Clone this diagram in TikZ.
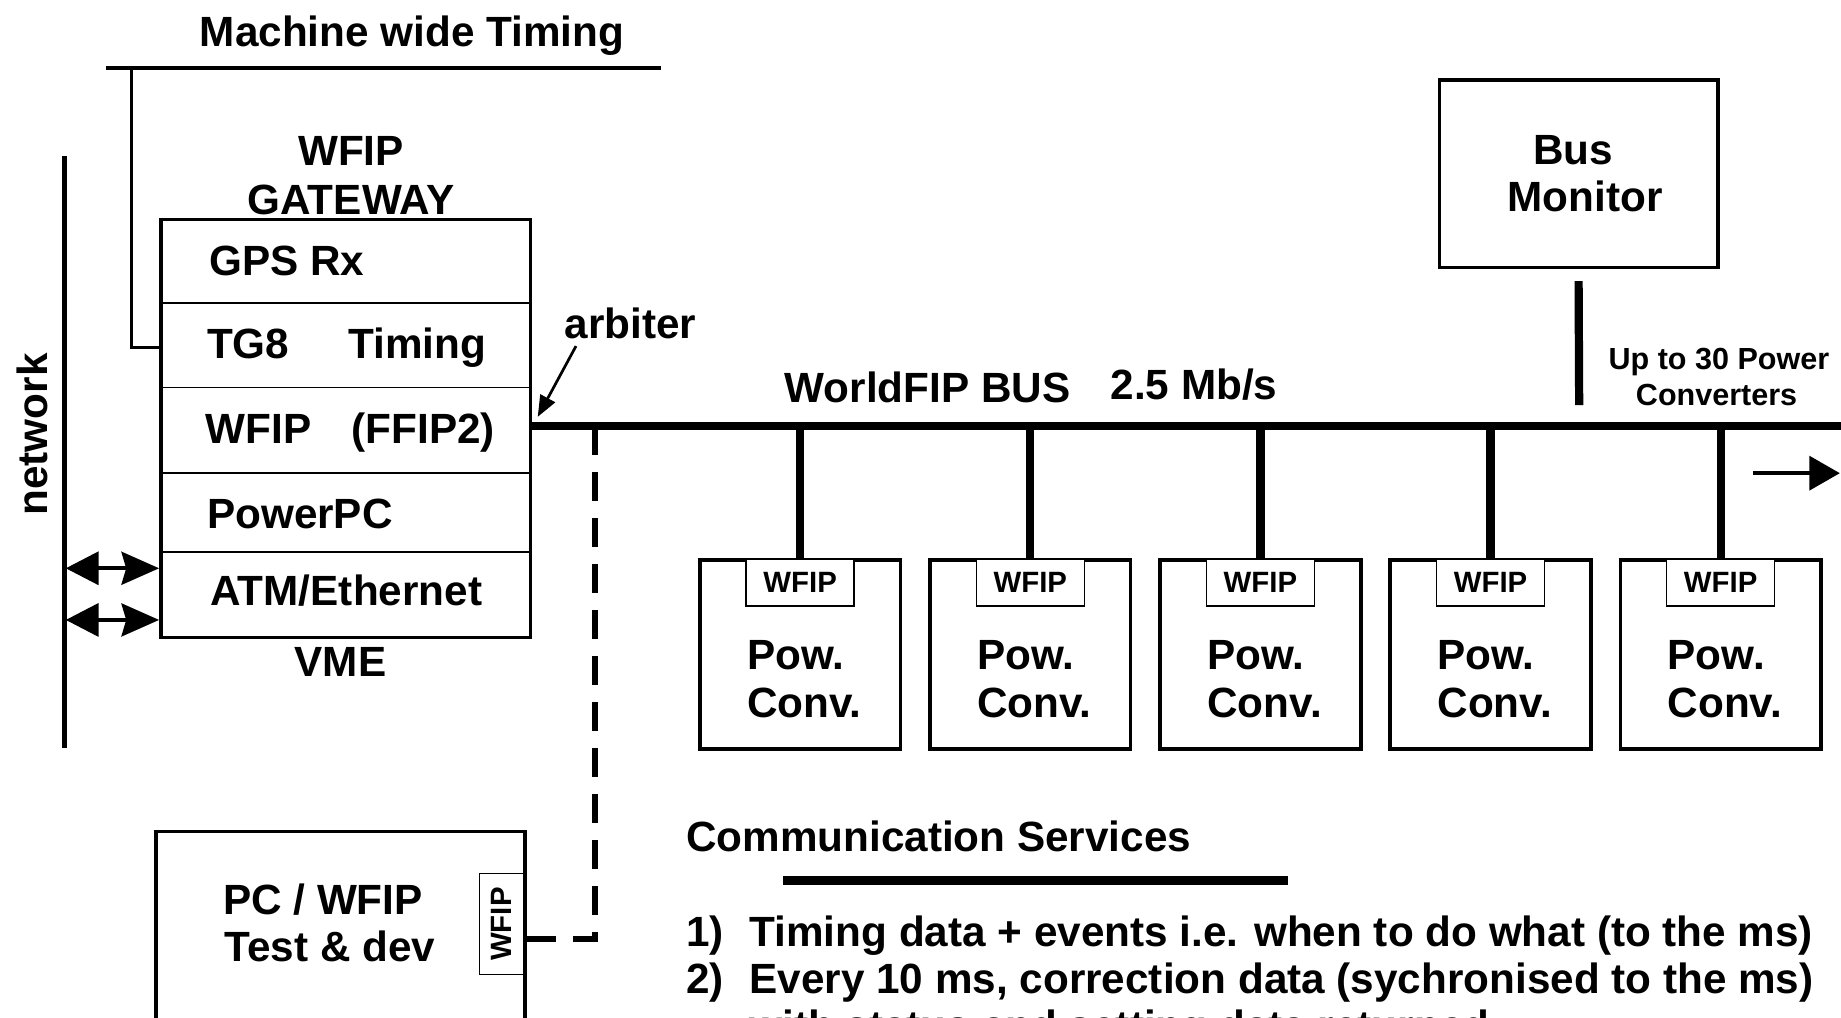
\documentclass[tikz,border=0pt]{standalone}
\usepackage{fontspec}
\setmainfont{Liberation Sans}
\usetikzlibrary{arrows.meta}

\tikzset{
  lbl/.style={font=\bfseries\fontsize{18}{20}\selectfont, inner sep=0pt, anchor=base},
  lblw/.style={lbl, anchor=base west},
  tag/.style={font=\bfseries\fontsize{12.5}{14}\selectfont, inner sep=0pt},
  box/.style={draw, line width=1.5pt, inner sep=0pt},
  chip/.style={draw, line width=0.6pt, inner sep=0pt, fill=white},
  bus/.style={line width=3.5pt},
  dbl/.style={{Triangle[length=14pt,width=14pt]}-{Stealth[length=16pt,width=14pt,inset=2pt]}, line width=1.7pt},
}

\begin{document}
\begin{tikzpicture}[x=0.5pt, y=-0.5pt]
  \useasboundingbox (0,0) rectangle (1568,867);

  % machine wide timing
  \node[lbl] (mwt) at (351,40) {Machine wide Timing};
  \coordinate (tmL) at (90,58);
  \coordinate (tmR) at (563,58);
  \coordinate (tmTap) at (112,58);
  \draw[line width=1.5pt] (tmL) -- (tmR);

  % gateway crate
  \node[lbl] (gwT1) at (299,141) {WFIP};
  \node[lbl] (gwT2) at (299,183) {GATEWAY};
  \node[box, minimum width=157.5pt, minimum height=178pt] (gw) at (294.5,365) {};
  \foreach \y in {258,330,403,470}
    \draw[line width=0.7pt] (137,\y) -- (452,\y);
  \node[lblw] (gps) at (178,235) {GPS Rx};
  \node[lblw] (tg8) at (176,305) {TG8\hspace{1.4em}Timing};
  \node[lblw] (ffip) at (175,378) {WFIP\hspace{0.95em}(FFIP2)};
  \node[lblw] (ppc) at (176,450) {PowerPC};
  \node[lbl] (atm) at (295,516) {ATM/Ethernet};
  \node[lbl] (vme) at (290,576) {VME};
  \draw[line width=1.5pt] (tmTap) |- (gw.west |- tg8.west);

  % network
  \draw[line width=2pt] (55,133) -- (55,637);
  \node[lbl, rotate=90, anchor=center] (net) at (28,370) {network};
  \coordinate (na1) at (56,484);
  \coordinate (na2) at (56,528);
  \draw[dbl] (na1) -- (na1 -| gw.west);
  \draw[dbl] (na2) -- (na2 -| gw.west);

  % the bus
  \coordinate (busL) at (452,363);
  \coordinate (busR) at (1568,363);
  \draw[bus] (busL) -- (busR);
  \node[lbl] (wfb) at (790,343) {WorldFIP BUS};
  \node[lbl] (rate) at (1017,340) {2.5 Mb/s};
  \node[lbl] (arb) at (537,288) {arbiter};
  \coordinate (arbtip) at (458,355);
  \draw[-{Triangle[length=9pt,width=7pt]}, line width=1.15pt] ([shift={(10,6)}]arb.south west) -- (arbtip);
  \coordinate (more) at (1493,403);
  \draw[-{Triangle[length=13pt,width=14.5pt]}, line width=1.5pt] (more) -- (1567,403);

  % bus monitor
  \node[box, minimum width=118.5pt, minimum height=80pt] (bm) at (1344.5,148) {};
  \node[lbl] (bmT1) at (1340,140) {Bus};
  \node[lbl] (bmT2) at (1350,180) {Monitor};
  \coordinate (bmtap) at (1345,345);
  \draw[bus] ([yshift=-5pt]bm.south) -- (bmtap);
  \node[font=\bfseries\fontsize{13}{15}\selectfont, inner sep=0pt, anchor=base] (upto1) at (1464,315) {Up to 30 Power};
  \node[font=\bfseries\fontsize{13}{15}\selectfont, inner sep=0pt, anchor=base] (upto2) at (1462,345) {Converters};

  % power converters
  \foreach \i in {1,...,5}{
    \pgfmathsetmacro{\x}{681.5+(\i-1)*196}
    \node[box, minimum width=85.5pt, minimum height=80.5pt] (pc\i) at (\x,557.5) {};
    \node[chip, tag, minimum width=46pt, minimum height=20pt, anchor=north] (pcw\i) at (pc\i.north) {WFIP};
    \node[lblw] (pw\i) at (\x-45.5,570) {Pow.};
    \node[lblw] (cv\i) at (\x-45.5,611) {Conv.};
    \draw[bus] (pc\i.north) -- (pc\i.north |- busL);
  }

  % test pc
  \node[box, minimum width=157pt, minimum height=96pt] (tpc) at (290,804) {};
  \node[lbl] (tpcT1) at (275,779) {PC / WFIP};
  \node[lbl] (tpcT2) at (281,819) {Test \& dev};
  \node[chip, minimum width=19pt, minimum height=43pt, anchor=east] (tpcw) at (447,787) {};
  \node[tag, rotate=90] at (tpcw) {WFIP};
  \coordinate (dtop) at (507,363);
  \coordinate (tport) at (447,800);
  \draw[line width=2.5pt, dash pattern=on 12.25pt off 7.35pt] (dtop) |- (tport);

  % services
  \node[lblw] (cs) at (584,725) {Communication Services};
  \coordinate (csL) at (667,750);
  \coordinate (csR) at (1097,750);
  \draw[line width=4pt] (csL) -- (csR);
  \node[lblw] (svc) at (584,806) {\begin{tabular}[t]{@{}p{27pt}@{}l@{}}
    1) & Timing data + events i.e. when to do what (to the ms)\\
    2) & Every 10 ms, correction data (sychronised to the ms)\\
       & with status and setting data returned
  \end{tabular}};
\end{tikzpicture}
\end{document}
